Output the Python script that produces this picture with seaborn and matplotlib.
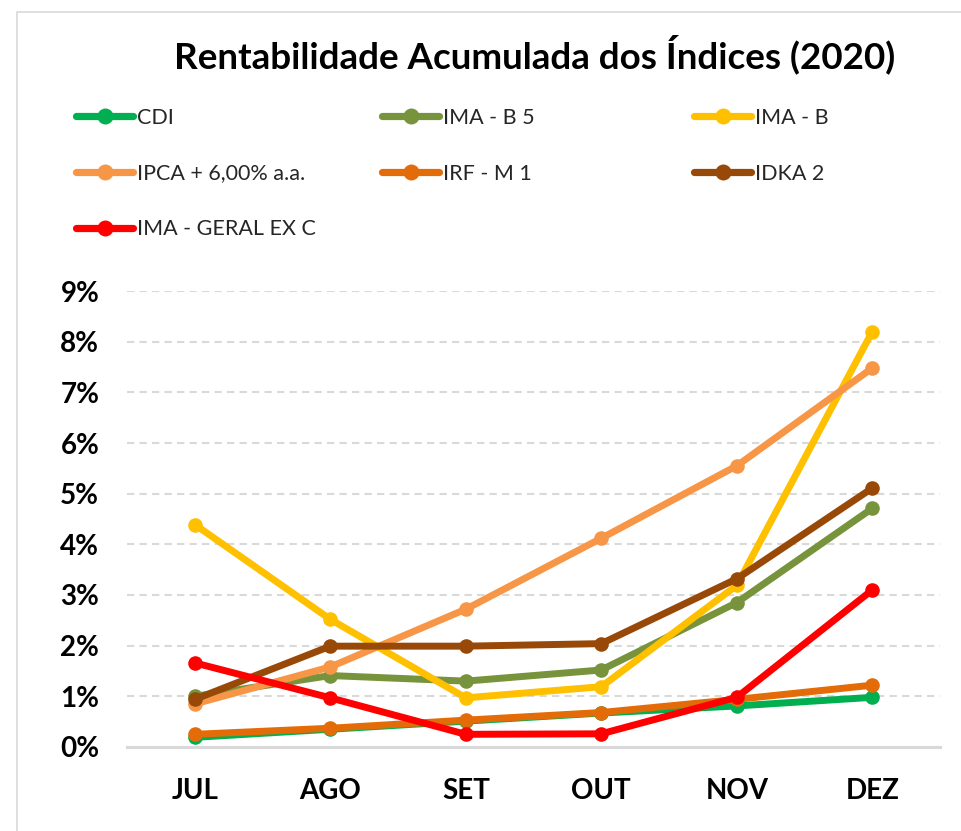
import numpy as np
import pandas as pd
import matplotlib.pyplot as plt
import seaborn as sns
from matplotlib.lines import Line2D
from matplotlib.patches import Rectangle

# dados (rentabilidade acumulada, %)
meses = ["JUL", "AGO", "SET", "OUT", "NOV", "DEZ"]
cdi = [0.19, 0.35, 0.51, 0.67, 0.81, 0.98]
ima_b5 = [1.00, 1.41, 1.30, 1.52, 2.85, 4.71]
ima_b = [4.39, 2.52, 0.97, 1.19, 3.19, 8.20]
ipca_6 = [0.85, 1.58, 2.72, 4.12, 5.55, 7.48]
irf_m1 = [0.25, 0.37, 0.53, 0.68, 0.94, 1.22]
idka2 = [0.94, 1.99, 1.99, 2.04, 3.32, 5.11]
ima_geral = [1.66, 0.97, 0.25, 0.26, 0.98, 3.10]

nomes = ["CDI", "IMA - B 5", "IMA - B", "IPCA + 6,00% a.a.", "IRF - M 1", "IDKA 2", "IMA - GERAL EX C"]
series = [cdi, ima_b5, ima_b, ipca_6, irf_m1, idka2, ima_geral]
cores = ["#00B050", "#77933C", "#FFC000", "#F79646", "#E36C09", "#984807", "#FF0000"]
yticks = list(range(0, 10))

df = pd.concat(
    [pd.DataFrame({"mes": meses, "valor": s, "indice": n}) for n, s in zip(nomes, series)],
    ignore_index=True,
)

sns.set_theme(style="white")
plt.rcParams["font.family"] = ["Lato", "DejaVu Sans"]

fig = plt.figure(figsize=(9.61, 8.31), dpi=100)
ax = fig.add_axes([0.1322, 0.1011, 0.8460, 0.5487])

sns.lineplot(data=df, x="mes", y="valor", hue="indice", hue_order=nomes,
             palette=dict(zip(nomes, cores)), marker="o", markersize=10.5,
             markeredgewidth=0, linewidth=5, sort=False, legend=False, ax=ax)
for ln in ax.lines:
    ln.set_clip_on(False)

ax.set_xlim(-0.5, 5.5)
ax.set_ylim(0, 9)
ax.set_yticks(yticks)
ax.set_yticklabels([f"{v}%" for v in yticks])
ax.set_xlabel("")
ax.set_ylabel("")
ax.tick_params(axis="y", length=0, pad=20, labelsize=20)
ax.tick_params(axis="x", length=0, pad=22, labelsize=20)
for lab in ax.get_xticklabels() + ax.get_yticklabels():
    lab.set_fontweight("bold")
    lab.set_color("black")

ax.yaxis.grid(True, color="#D9D9D9", linewidth=1.5, linestyle=(0, (3.5, 2.5)))
ax.xaxis.grid(False)
ax.set_axisbelow(True)
for side in ["left", "right", "top"]:
    ax.spines[side].set_visible(False)
ax.spines["bottom"].set_color("#D9D9D9")
ax.spines["bottom"].set_linewidth(2.2)

fig.text(0.5567, 1 - 68.5 / 831, "Rentabilidade Acumulada dos Índices (2020)",
         ha="center", va="baseline", fontsize=26.5, fontweight="bold", color="black")

# legenda em 3 colunas
colunas = [[0, 3, 6], [1, 4], [2, 5]]
xs = [76, 382, 694]
for col, x0 in zip(colunas, xs):
    handles = [Line2D([0], [0], color=cores[i], lw=5.2, marker="o", markersize=11.5,
                      markeredgewidth=0) for i in col]
    fig.legend(handles, [nomes[i] for i in col], loc="upper left",
               bbox_to_anchor=(x0 / 961, 1 - 108 / 831), frameon=False,
               fontsize=15.5, handlelength=2.65, handletextpad=0.2,
               labelspacing=1.65, borderpad=0, borderaxespad=0, numpoints=1)

fig.patches.append(Rectangle((17 / 961, -0.1), 1.2, 1.1 - 12 / 831, transform=fig.transFigure,
                             fill=False, edgecolor="#D9D9D9", linewidth=1.2))

fig.savefig("out.png", dpi=100, facecolor="white")
